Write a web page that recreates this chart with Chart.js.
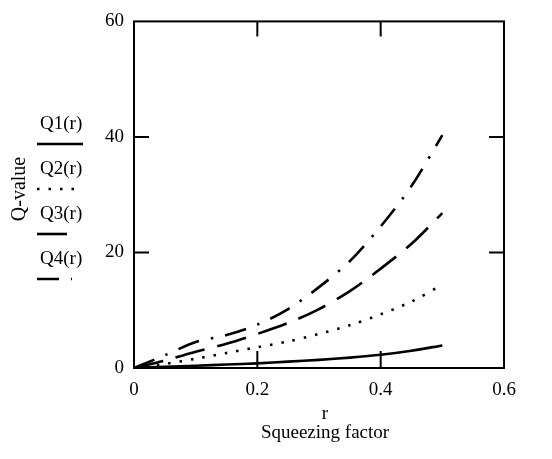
<!DOCTYPE html>
<html>
<head>
<meta charset="utf-8">
<script src="https://cdn.jsdelivr.net/npm/chart.js@4"></script>
<style>
  html, body { margin: 0; padding: 0; background: #fff; }
  #wrap { width: 552px; height: 459px; }
</style>
</head>
<body>
<div id="wrap"><canvas id="qChart" width="552" height="459"></canvas></div>
<script>
// squeezing factor r
const rValues = [0, 0.05, 0.1, 0.15, 0.2, 0.25, 0.3, 0.35, 0.4, 0.45, 0.5];
// Q-values
const q1 = [0, 0.2, 0.4, 0.6, 0.8, 1.1, 1.4, 1.8, 2.3, 3.0, 3.9];
const q2 = [0, 0.7, 1.6, 2.6, 3.6, 4.6, 5.9, 7.4, 9.3, 11.5, 14.4];
const q3 = [0, 1.3, 2.8, 4.2, 5.9, 7.8, 10.2, 13.3, 17.2, 21.5, 26.8];
const q4 = [0, 2.2, 4.5, 5.7, 7.5, 10.2, 14.0, 18.5, 24.5, 31.5, 40.3];
const seriesNames = ["Q1(r)", "Q2(r)", "Q3(r)", "Q4(r)"];
const xTicks = [0, 0.2, 0.4, 0.6];
const yTicks = [0, 20, 40, 60];

const serif = "'Liberation Serif', 'DejaVu Serif', serif";
const toPoints = vals => rValues.map((r, i) => ({ x: r, y: vals[i] }));

const styles = [
    { dash: [] },
    { dash: [2.5, 9] },
    { dash: [30, 13] },
    { dash: [22, 12, 2.5, 12] }
];

const datasets = [q1, q2, q3, q4].map((vals, i) => ({
    label: seriesNames[i],
    data: toPoints(vals),
    showLine: true,
    borderColor: "#000",
    borderWidth: 2.6,
    borderDash: styles[i].dash,
    pointRadius: 0,
    tension: 0.3,
    fill: false
}));

// frame, inside ticks, titles and legend
const decorations = {
    id: "decorations",
    afterDraw(chart) {
        const ctx = chart.ctx;
        const a = chart.chartArea;
        const xs = chart.scales.x, ys = chart.scales.y;
        ctx.save();
        ctx.strokeStyle = "#000";
        ctx.lineWidth = 2;
        ctx.strokeRect(a.left, a.top, a.right - a.left, a.bottom - a.top);

        // inside ticks
        const len = 15;
        ctx.beginPath();
        xTicks.slice(1, -1).forEach(v => {
            const px = xs.getPixelForValue(v);
            ctx.moveTo(px, a.top); ctx.lineTo(px, a.top + len);
            ctx.moveTo(px, a.bottom); ctx.lineTo(px, a.bottom - len - 2);
        });
        yTicks.slice(1, -1).forEach(v => {
            const py = ys.getPixelForValue(v);
            ctx.moveTo(a.left, py); ctx.lineTo(a.left + len, py);
            ctx.moveTo(a.right, py); ctx.lineTo(a.right - len, py);
        });
        ctx.stroke();

        // x title
        ctx.fillStyle = "#000";
        ctx.font = "19px " + serif;
        ctx.textAlign = "center";
        ctx.textBaseline = "middle";
        ctx.fillText("r", 325, 414);
        ctx.fillText("Squeezing factor", 325, 433);

        // y title
        ctx.save();
        ctx.translate(20, 189);
        ctx.rotate(-Math.PI / 2);
        ctx.font = "20px " + serif;
        ctx.fillText("Q-value", 0, 0);
        ctx.restore();

        // legend: label above line sample
        const rows = [124, 169, 214, 259];
        const lineEnds = [83, 75, 68, 72];
        chart.data.datasets.forEach((ds, i) => {
            ctx.font = "19px " + serif;
            ctx.textAlign = "left";
            ctx.fillText(ds.label, 40, rows[i]);
            ctx.beginPath();
            ctx.lineWidth = 2.6;
            ctx.setLineDash(ds.borderDash);
            ctx.moveTo(37, rows[i] + 20);
            ctx.lineTo(lineEnds[i], rows[i] + 20);
            ctx.stroke();
            ctx.setLineDash([]);
        });
        ctx.restore();
    }
};

new Chart(document.getElementById("qChart").getContext("2d"), {
    type: "scatter",
    data: { datasets: datasets },
    options: {
        responsive: false,
        animation: false,
        layout: { padding: { left: 0, top: 14, right: 48, bottom: 0 } },
        scales: {
            x: {
                type: "linear",
                min: 0, max: 0.6,
                afterFit: s => { s.height = 91; },
                afterBuildTicks: s => { s.ticks = xTicks.map(v => ({ value: v })); },
                grid: { display: false, drawTicks: false },
                border: { display: false },
                ticks: {
                    color: "#000",
                    padding: 11,
                    font: { family: serif, size: 19 },
                    callback: v => String(v)
                }
            },
            y: {
                type: "linear",
                min: 0, max: 60,
                afterFit: s => { s.width = 134; },
                afterBuildTicks: s => { s.ticks = yTicks.map(v => ({ value: v })); },
                grid: { display: false, drawTicks: false },
                border: { display: false },
                ticks: {
                    color: "#000",
                    padding: 10,
                    font: { family: serif, size: 19 }
                }
            }
        },
        plugins: {
            legend: { display: false },
            tooltip: { enabled: false }
        }
    },
    plugins: [decorations]
});
</script>
</body>
</html>
